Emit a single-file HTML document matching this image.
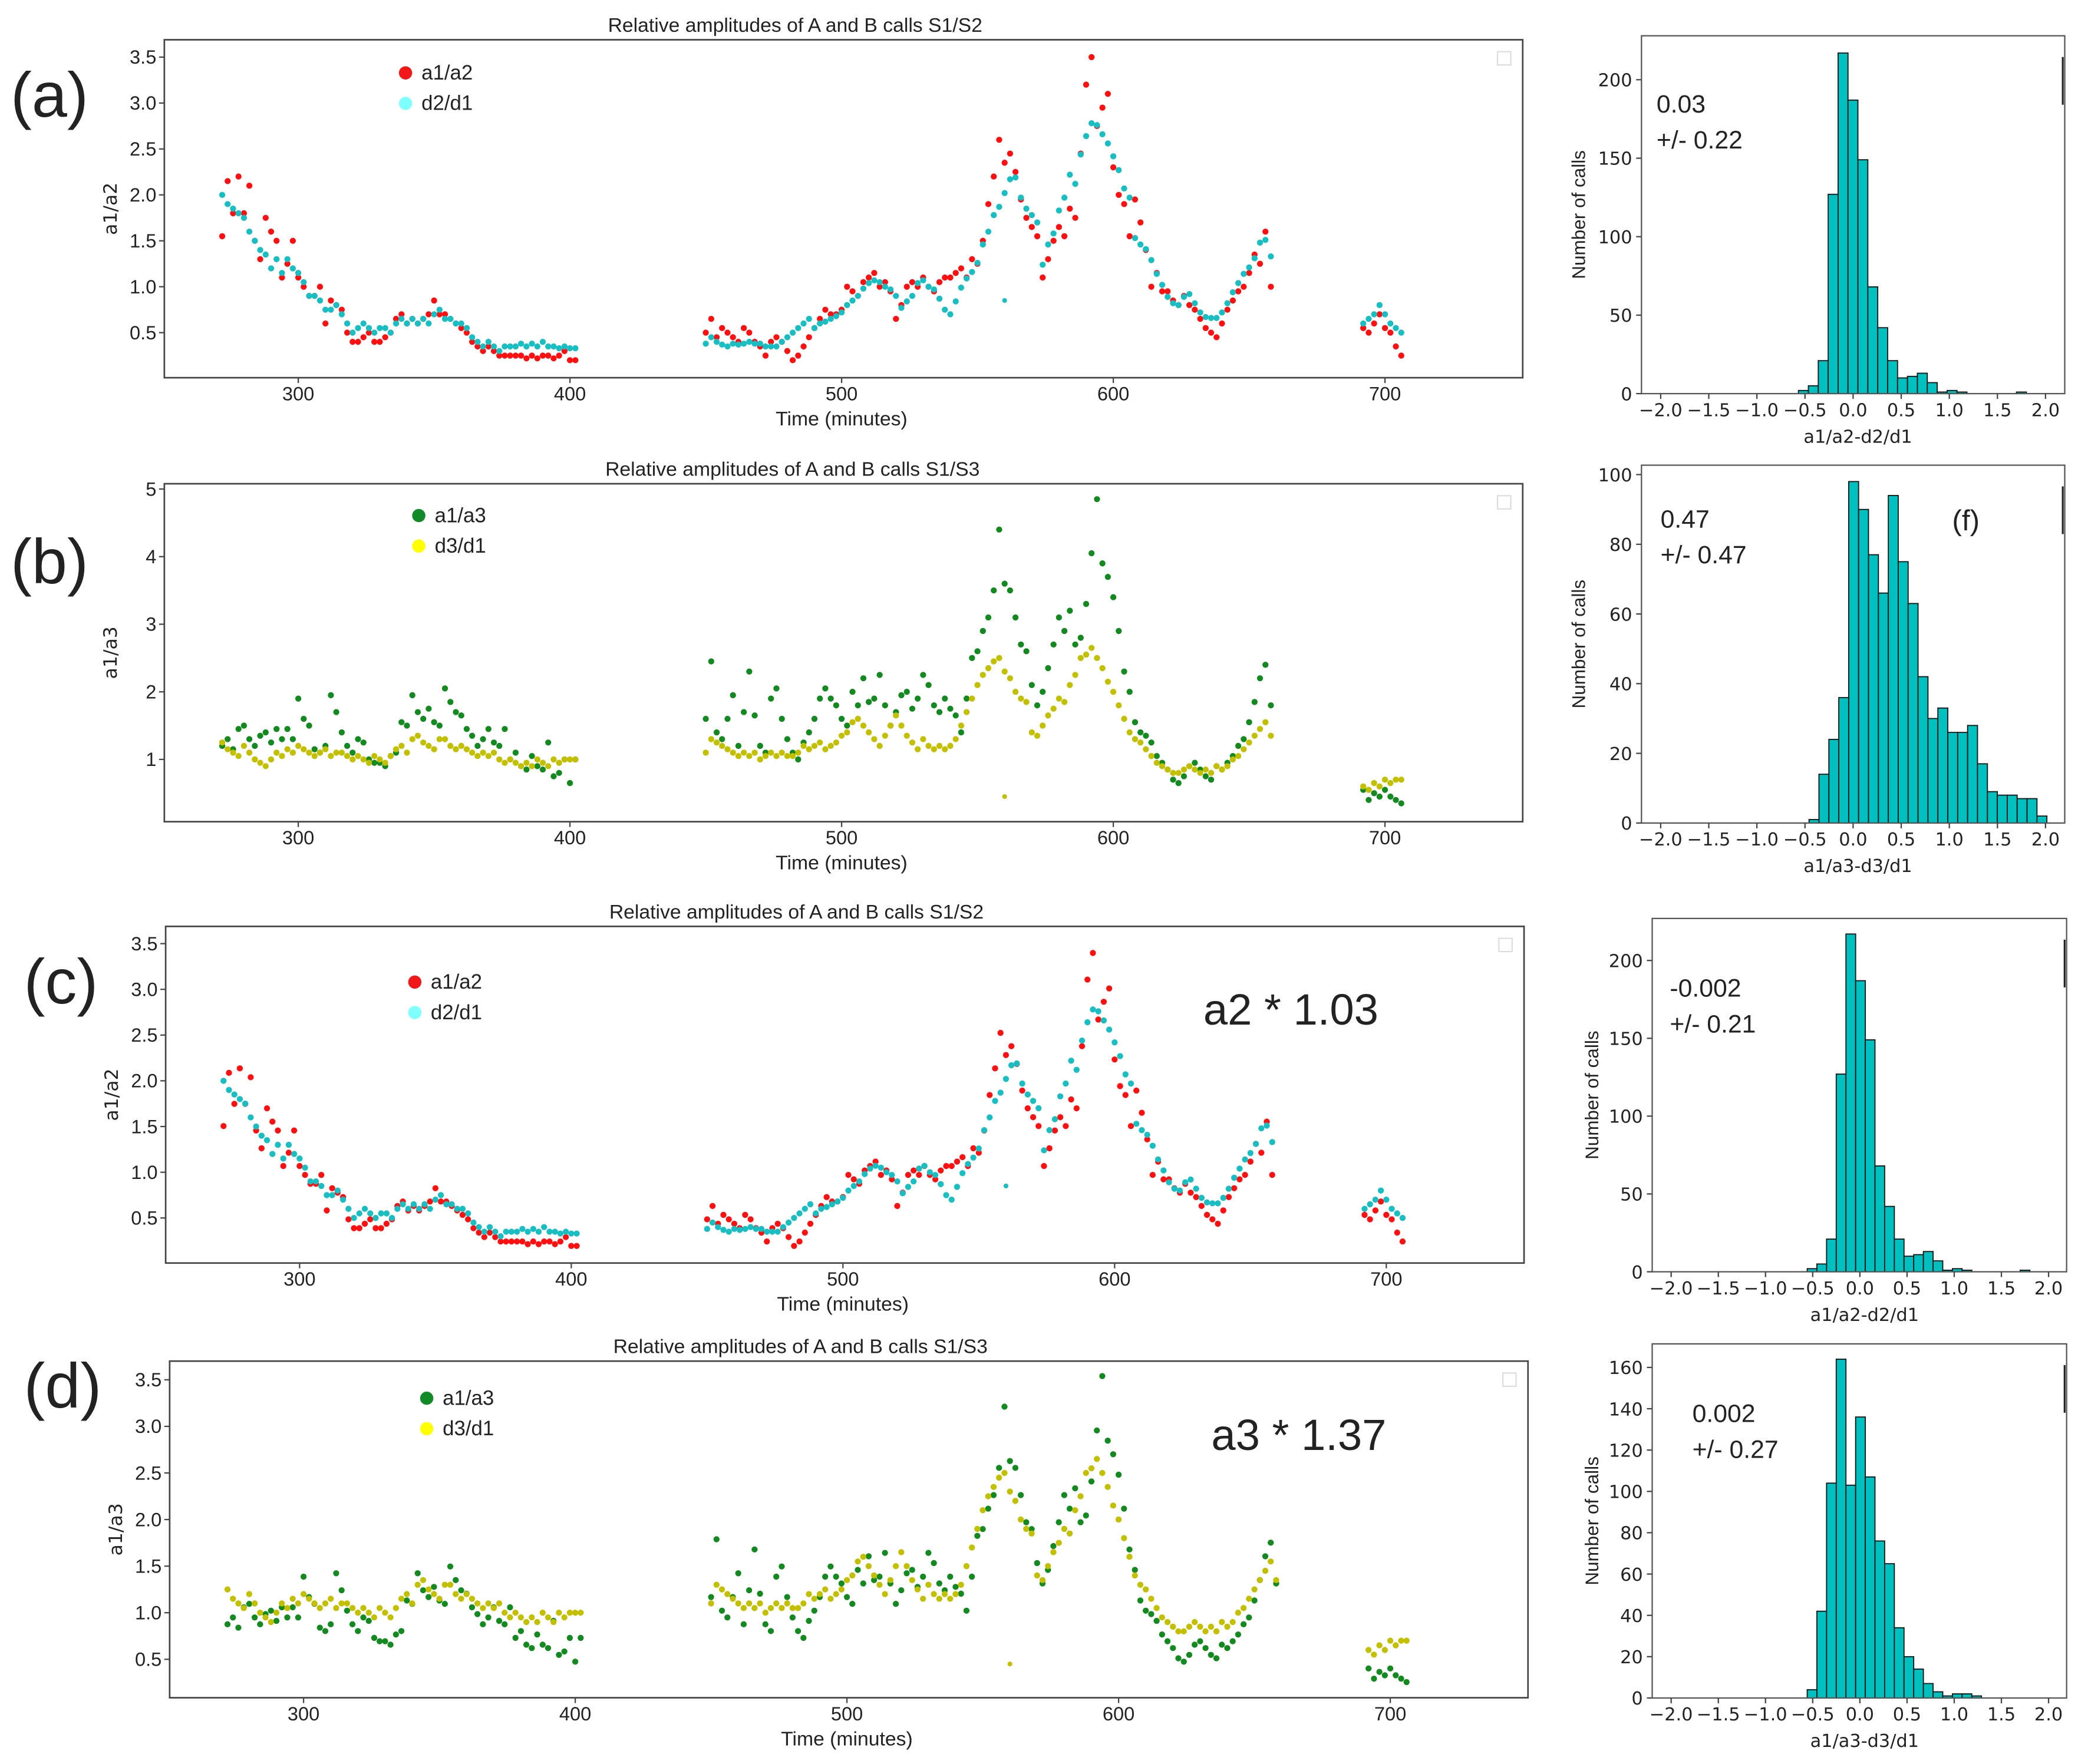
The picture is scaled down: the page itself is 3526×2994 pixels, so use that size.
<!DOCTYPE html>
<html><head><meta charset="utf-8">
<style>
html,body{margin:0;padding:0;background:#fff;}
svg{display:block;}
text{font-family:"Liberation Sans","DejaVu Sans",sans-serif;fill:#222;}
.tk{font-size:14.5px;}
.ht{font-family:"DejaVu Sans","Liberation Sans",sans-serif;font-size:13.5px;}
</style></head>
<body>
<svg id="fig" width="3526" height="2994" viewBox="0 0 1568 1331" preserveAspectRatio="none" xmlns="http://www.w3.org/2000/svg"></svg>
<script>
// ---- time series data (start minute, step 2 min) ----
const seg1Start = 272, seg2Start = 450, seg3Start = 692, stepMin = 2;
const aCyan1 = [2.0,1.9,1.85,1.8,1.75,1.6,1.5,1.4,1.35,1.2, 1.3,1.15,1.3,1.2,1.15,1.05,0.9,0.9,0.85,0.75, 0.75,0.8,0.7,0.6,0.5,0.55,0.6,0.55,0.5,0.55, 0.55,0.5,0.6,0.65,0.6,0.65,0.6,0.65,0.6,0.7, 0.75,0.65,0.65,0.6,0.6,0.55,0.45,0.4,0.35,0.4, 0.35,0.3,0.35,0.35,0.35,0.38,0.35,0.38,0.35,0.4, 0.35,0.35,0.33,0.35,0.33,0.33];
const aRed1 = [1.55,2.15,1.8,2.2,1.8,2.1,1.5,1.3,1.75,1.6, 1.5,1.1,1.25,1.5,1.1,1.0,0.9,0.9,1.0,0.6, 0.85,0.8,0.75,0.5,0.4,0.4,0.45,0.5,0.4,0.4, 0.45,0.5,0.65,0.7,0.6,0.65,0.6,0.65,0.7,0.85, 0.7,0.7,0.65,0.6,0.55,0.5,0.4,0.35,0.3,0.35, 0.3,0.25,0.25,0.25,0.25,0.25,0.22,0.25,0.22,0.25, 0.25,0.22,0.25,0.3,0.2,0.2];
const aCyan2 = [0.38,0.45,0.4,0.37,0.35,0.38,0.37,0.38,0.4,0.38, 0.38,0.35,0.35,0.35,0.4,0.45,0.5,0.55,0.6,0.65, 0.55,0.6,0.62,0.65,0.68,0.72,0.8,0.85,0.9,0.98, 1.04,1.07,1.05,1.0,0.97,0.9,0.77,0.84,0.9,1.04, 1.07,1.0,0.97,0.87,0.75,0.7,0.84,0.99,1.09,1.16, 1.26,1.46,1.6,1.78,1.87,2.02,2.17,2.19,1.97,1.85, 1.78,1.7,1.24,1.46,1.58,1.83,1.97,2.22,2.12,2.44, 2.64,2.78,2.76,2.66,2.56,2.42,2.27,2.07,1.97,1.53, 1.46,1.41,1.29,1.14,1.02,0.89,0.82,0.8,0.89,0.92, 0.82,0.72,0.67,0.66,0.66,0.72,0.82,0.94,1.04,1.14, 1.21,1.31,1.48,1.51,1.33];
const aRed2 = [0.5,0.65,0.45,0.55,0.5,0.45,0.4,0.55,0.5,0.4, 0.35,0.25,0.4,0.45,0.4,0.3,0.2,0.25,0.35,0.45, 0.55,0.65,0.75,0.7,0.7,0.75,1.0,0.95,0.9,1.05, 1.1,1.15,1.0,1.05,0.95,0.65,0.8,1.0,1.05,1.0, 1.1,1.0,0.95,1.05,1.1,1.1,1.15,1.2,1.1,1.3, 1.25,1.5,1.9,2.2,2.6,2.35,2.45,2.25,1.95,1.75, 1.65,1.55,1.1,1.3,1.5,1.65,1.55,1.85,1.75,2.45, 3.2,3.5,2.75,2.95,3.1,2.3,2.0,1.9,1.55,1.95, 1.7,1.4,1.0,1.15,0.95,0.95,0.85,0.8,0.9,0.8, 0.75,0.65,0.55,0.5,0.45,0.6,0.75,0.85,0.95,1.0, 1.15,1.35,1.25,1.6,1.0];
const aCyan3 = [0.6,0.65,0.7,0.8,0.7,0.6,0.55,0.5];
const aRed3 = [0.55,0.5,0.6,0.7,0.55,0.5,0.35,0.25];
const bGreen1 = [1.2,1.3,1.15,1.45,1.5,1.3,1.2,1.35,1.4,1.25, 1.45,1.3,1.45,1.3,1.9,1.6,1.5,1.15,1.1,1.2, 1.95,1.7,1.4,1.2,1.1,1.3,1.25,1.0,0.95,0.95, 0.9,1.05,1.1,1.55,1.5,1.95,1.7,1.6,1.75,1.55, 1.5,2.05,1.85,1.7,1.65,1.45,1.35,1.2,1.3,1.45, 1.25,1.2,1.45,1.0,1.1,0.9,0.85,1.05,0.9,0.85, 1.25,0.75,0.8,1.0,0.65,1.0];
const bYellow1 = [1.25,1.15,1.1,1.05,1.2,1.1,1.0,0.95,0.9,1.0, 1.1,1.05,1.15,1.1,1.2,1.15,1.1,1.05,1.1,1.15, 1.05,1.1,1.1,1.05,1.0,1.05,1.0,0.95,1.05,1.0, 0.95,1.05,1.15,1.2,1.1,1.3,1.35,1.25,1.2,1.15, 1.3,1.3,1.2,1.15,1.2,1.15,1.1,1.05,1.1,1.05, 1.1,1.0,0.95,1.0,0.95,0.9,0.95,0.9,1.0,0.95, 0.9,1.0,0.95,1.0,1.0,1.0];
const bGreen2 = [1.6,2.45,1.4,1.3,1.6,1.95,1.2,1.7,2.3,1.65, 1.2,1.1,1.9,2.05,1.6,1.3,1.1,1.0,1.25,1.4, 1.6,1.9,2.05,1.9,1.8,1.6,1.5,2.0,1.8,2.2, 1.85,1.9,2.25,1.8,1.5,1.7,1.95,2.0,1.75,1.9, 2.25,2.1,1.8,1.7,1.9,1.75,1.65,1.4,1.9,2.5, 2.6,2.9,3.1,3.5,4.4,3.6,3.5,3.1,2.7,2.6, 2.1,1.8,2.0,2.35,2.7,3.1,2.9,3.2,2.7,2.8, 3.3,4.05,4.85,3.9,3.7,3.4,2.9,2.3,2.0,1.55, 1.4,1.35,1.25,1.05,0.95,0.85,0.7,0.65,0.75,0.9, 0.95,0.85,0.75,0.7,0.9,0.85,0.95,1.05,1.2,1.3, 1.55,1.85,2.2,2.4,1.8];
const bYellow2 = [1.1,1.3,1.25,1.2,1.15,1.1,1.05,1.1,1.05,1.1, 1.0,1.05,1.1,1.05,1.1,1.05,1.05,1.1,1.2,1.15, 1.2,1.25,1.15,1.2,1.25,1.35,1.4,1.55,1.6,1.5, 1.4,1.3,1.2,1.35,1.5,1.65,1.5,1.35,1.25,1.15, 1.3,1.2,1.15,1.2,1.15,1.2,1.3,1.5,1.7,1.9, 2.1,2.25,2.35,2.45,2.5,2.3,2.2,2.0,1.9,1.85, 1.4,1.35,1.5,1.65,1.75,1.9,1.85,2.1,2.25,2.5, 2.55,2.65,2.5,2.35,2.15,2.0,1.8,1.6,1.4,1.3, 1.25,1.15,1.05,0.95,0.9,0.85,0.8,0.8,0.85,0.9, 0.85,0.8,0.85,0.8,0.9,0.85,0.9,1.0,1.05,1.15, 1.25,1.35,1.45,1.55,1.35];
const bGreen3 = [0.55,0.4,0.5,0.45,0.55,0.45,0.4,0.35];
const bYellow3 = [0.6,0.55,0.65,0.6,0.7,0.65,0.7,0.7];
const outlierCyan = [560, 0.85];
const outlierYellow = [560, 0.45];
const scaleC = 1.03, scaleD = 1.37;

// ---- histogram data ----
const histE = {start:-0.568, width:0.103, counts:[2,5,21,127,217,187,149,68,42,21,10,11,13,7,1,2,1,0,0,0,0,0,1]};
const histF = {start:-0.458, width:0.103, counts:[1,14,24,36,98,90,77,66,94,75,63,42,30,33,26,26,28,17,9,8,8,7,7,2]};
const histG = {start:-0.558, width:0.1026, counts:[2,5,21,127,217,187,149,68,42,21,10,11,13,7,1,2,1,0,0,0,0,0,1]};
const histH = {start:-0.558, width:0.1026, counts:[4,42,104,164,103,136,107,76,65,34,20,14,7,3,1,2,2,1]};
const histXTicks = [-2.0,-1.5,-1.0,-0.5,0.0,0.5,1.0,1.5,2.0];

const NS = "http://www.w3.org/2000/svg";
const svg = document.getElementById('fig');
function mk(tag, attrs, parent, txt){
  const e = document.createElementNS(NS, tag);
  for (const k in attrs) e.setAttribute(k, attrs[k]);
  if (txt !== undefined) e.textContent = txt;
  (parent || svg).appendChild(e);
  return e;
}
function fmtTick(v, d){ const s = Math.abs(v).toFixed(d); return (v < 0 ? '\u2212' : '') + s; }

// ---- time panels ----
function timePanel(cfg){
  const g = mk('g', {});
  
  
  const L = cfg.L, R = cfg.L + 1025, T = cfg.T, B = cfg.B;
  const xs = t => L + (t - 250.7) * 2.05;
  const ys = v => cfg.y0 - (v - cfg.v0) * cfg.ppu;
  const frame = mk('rect', {x:L, y:T, width:R-L, height:B-T, fill:'none', stroke:'#444', 'stroke-width':1.2}, g);
  
  
  [300,400,500,600,700].forEach(t => {
    mk('line', {x1:xs(t), x2:xs(t), y1:B, y2:B+4, stroke:'#444'}, g);
    const tx = mk('text', {x:xs(t), y:B+17, 'text-anchor':'middle', class:'tk'}, g, String(t));
    
    
  });
  cfg.yTicks.forEach(v => {
    mk('line', {x1:L-4, x2:L, y1:ys(v), y2:ys(v), stroke:'#444'}, g);
    const tx = mk('text', {x:L-6, y:ys(v)+5, 'text-anchor':'end', class:'tk'}, g, cfg.yDec ? v.toFixed(1) : String(v));
    
    
  });
  const xl = mk('text', {x:L+511, y:B+36, 'text-anchor':'middle', 'font-size':15}, g, 'Time (minutes)');
  
  
  const yl = mk('text', {x:0, y:0, 'text-anchor':'middle', 'font-size':14, transform:`translate(${L-36},${(T+B)/2}) rotate(-90)`, style:'font-family:"DejaVu Sans",sans-serif'}, g, cfg.ylabel);
  
  
  const ti = mk('text', {x:cfg.titleX, y:T-6, 'text-anchor':'middle', 'font-size':15}, g, cfg.title);
  
  
  const pl = mk('text', {x:cfg.labX, y:cfg.labY, 'font-size':48}, g, cfg.label);
  
  
  const lb = mk('rect', {x:R-19, y:T+9, width:10, height:10, fill:'none', stroke:'#ddd'}, g);
  
  
  cfg.series.forEach(s => {
    const sg = mk('g', {fill:s.color}, g);
    
    
    s.segs.forEach(([start, vals]) => {
      vals.forEach((v, i) => {
        const t = start + i * stepMin;
        const c = mk('circle', {cx:xs(t), cy:ys(v / s.div), r:2.3}, sg);
        
        
      });
    });
    if (s.extra){
      const c = mk('circle', {cx:xs(s.extra[0]), cy:ys(s.extra[1]), r:1.8}, sg);
      
      
    }
  });
  cfg.legend.forEach((le, i) => {
    const lg = mk('g', {}, g);
    
    
    const y = cfg.legY + i * 23;
    mk('circle', {cx:cfg.legX, cy:y+1, r:5, fill:le.color}, lg);
    mk('text', {x:cfg.legX+12, y:y+6, 'font-size':15.5}, lg, le.text);
  });
  if (cfg.note){
    const n = mk('text', {x:cfg.note.x, y:cfg.note.y, 'font-size':33}, g, cfg.note.text);
    
    
  }
}

const redC = '#ff1010', cyanC = '#17bfc3', greenC = '#138a1f', yelC = '#c2c000';
timePanel({name:'panel-a', L:124, T:30, B:285, y0:251, v0:0.5, ppu:69.3, yTicks:[0.5,1.0,1.5,2.0,2.5,3.0,3.5], yDec:true,
  ylabel:'a1/a2', title:'Relative amplitudes of A and B calls  S1/S2', titleX:600, label:'(a)', labX:8, labY:88,
  legX:306, legY:54, legend:[{color:'#f01818', text:'a1/a2'},{color:'#80ffff', text:'d2/d1'}],
  series:[{name:'series-a1-a2', color:redC, div:1, segs:[[seg1Start,aRed1],[seg2Start,aRed2],[seg3Start,aRed3]]},
          {name:'series-d2-d1', color:cyanC, div:1, segs:[[seg1Start,aCyan1],[seg2Start,aCyan2],[seg3Start,aCyan3]], extra:outlierCyan}]});
timePanel({name:'panel-b', L:124, T:365, B:620, y0:573, v0:1, ppu:51, yTicks:[1,2,3,4,5], yDec:false,
  ylabel:'a1/a3', title:'Relative amplitudes of A and B calls S1/S3', titleX:598, label:'(b)', labX:8, labY:440,
  legX:316, legY:388, legend:[{color:'#128a28', text:'a1/a3'},{color:'#ffff00', text:'d3/d1'}],
  series:[{name:'series-a1-a3', color:greenC, div:1, segs:[[seg1Start,bGreen1],[seg2Start,bGreen2],[seg3Start,bGreen3]]},
          {name:'series-d3-d1', color:yelC, div:1, segs:[[seg1Start,bYellow1],[seg2Start,bYellow2],[seg3Start,bYellow3]], extra:outlierYellow}]});
timePanel({name:'panel-c', L:125, T:699, B:953, y0:919, v0:0.5, ppu:69, yTicks:[0.5,1.0,1.5,2.0,2.5,3.0,3.5], yDec:true,
  ylabel:'a1/a2', title:'Relative amplitudes of A and B calls  S1/S2', titleX:601, label:'(c)', labX:18, labY:757,
  legX:313, legY:740, legend:[{color:'#f01818', text:'a1/a2'},{color:'#80ffff', text:'d2/d1'}],
  note:{x:908, y:773, text:'a2 * 1.03'},
  series:[{name:'series-a1-a2-scaled', color:redC, div:scaleC, segs:[[seg1Start,aRed1],[seg2Start,aRed2],[seg3Start,aRed3]]},
          {name:'series-d2-d1', color:cyanC, div:1, segs:[[seg1Start,aCyan1],[seg2Start,aCyan2],[seg3Start,aCyan3]], extra:outlierCyan}]});
timePanel({name:'panel-d', L:128, T:1027, B:1281, y0:1252, v0:0.5, ppu:70.3, yTicks:[0.5,1.0,1.5,2.0,2.5,3.0,3.5], yDec:true,
  ylabel:'a1/a3', title:'Relative amplitudes of A and B calls  S1/S3', titleX:604, label:'(d)', labX:18, labY:1062,
  legX:322, legY:1054, legend:[{color:'#128a28', text:'a1/a3'},{color:'#ffff00', text:'d3/d1'}],
  note:{x:914, y:1094, text:'a3 * 1.37'},
  series:[{name:'series-a1-a3-scaled', color:greenC, div:scaleD, segs:[[seg1Start,bGreen1],[seg2Start,bGreen2],[seg3Start,bGreen3]]},
          {name:'series-d3-d1', color:yelC, div:1, segs:[[seg1Start,bYellow1],[seg2Start,bYellow2],[seg3Start,bYellow3]], extra:outlierYellow}]});

// ---- histograms ----
function histPanel(cfg){
  const g = mk('g', {});
  
  
  const {L, R, T, B, x0, ppx, ymax} = cfg;
  const xs = v => x0 + v * ppx;
  const ys = c => B - c * (B - T) / ymax;
  cfg.hist.counts.forEach((c, i) => {
    if (c <= 0) return;
    const a = cfg.hist.start + i * cfg.hist.width;
    const r = mk('rect', {x:xs(a), y:ys(c), width:cfg.hist.width*ppx, height:B-ys(c), fill:'#00bfbf', stroke:'#111', 'stroke-width':0.8}, g);
    
    
  });
  const f = mk('rect', {x:L, y:T, width:R-L, height:B-T, fill:'none', stroke:'#555', 'stroke-width':1}, g);
  
  
  mk('line', {x1:R-1.5, x2:R-1.5, y1:T+16, y2:T+52, stroke:'#222', 'stroke-width':1.4}, g);
  histXTicks.forEach(v => {
    mk('line', {x1:xs(v), x2:xs(v), y1:B, y2:B+4, stroke:'#444'}, g);
    const t = mk('text', {x:xs(v), y:B+17, 'text-anchor':'middle', class:'ht'}, g, fmtTick(v,1));
    
    
  });
  cfg.yTicks.forEach(v => {
    mk('line', {x1:L-4, x2:L, y1:ys(v), y2:ys(v), stroke:'#444'}, g);
    const t = mk('text', {x:L-7, y:ys(v)+5, 'text-anchor':'end', class:'ht'}, g, String(v));
    
    
  });
  const xl = mk('text', {x:xs(0.05), y:B+37, 'text-anchor':'middle', 'font-size':13.5, style:'font-family:"DejaVu Sans",sans-serif'}, g, cfg.xlabel);
  
  
  const yl = mk('text', {x:0, y:0, 'text-anchor':'middle', 'font-size':14, transform:`translate(${cfg.ylX},${(T+B)/2}) rotate(-90)`}, g, 'Number of calls');
  
  
  cfg.notes.forEach(n => {
    const t = mk('text', {x:n[0], y:n[1], 'font-size':n[3] || 19}, g, n[2]);
    
    
  });
}
histPanel({name:'histogram-e', hist:histE, L:1238.6, R:1558, T:27, B:297, x0:1398.3, ppx:72.6, ymax:228, yTicks:[0,50,100,150,200],
  xlabel:'a1/a2-d2/d1', ylX:1196, notes:[[1250,85,'0.03'],[1250,112,'+/- 0.22']]});
histPanel({name:'histogram-f', hist:histF, L:1238.6, R:1558, T:351, B:621, x0:1398.3, ppx:72.6, ymax:102.7, yTicks:[0,20,40,60,80,100],
  xlabel:'a1/a3-d3/d1', ylX:1196, notes:[[1253,398,'0.47'],[1253,425,'+/- 0.47'],[1473,400,'(f)',22]]});
histPanel({name:'histogram-g', hist:histG, L:1246.7, R:1559.4, T:693, B:959.6, x0:1403.4, ppx:71.2, ymax:227, yTicks:[0,50,100,150,200],
  xlabel:'a1/a2-d2/d1', ylX:1206, notes:[[1260,752,'-0.002'],[1260,779,'+/- 0.21']]});
histPanel({name:'histogram-h', hist:histH, L:1246.7, R:1559.4, T:1014, B:1281.2, x0:1403.4, ppx:71.2, ymax:171.4, yTicks:[0,20,40,60,80,100,120,140,160],
  xlabel:'a1/a3-d3/d1', ylX:1206, notes:[[1277,1073,'0.002'],[1277,1100,'+/- 0.27']]});
</script>
</body></html>
